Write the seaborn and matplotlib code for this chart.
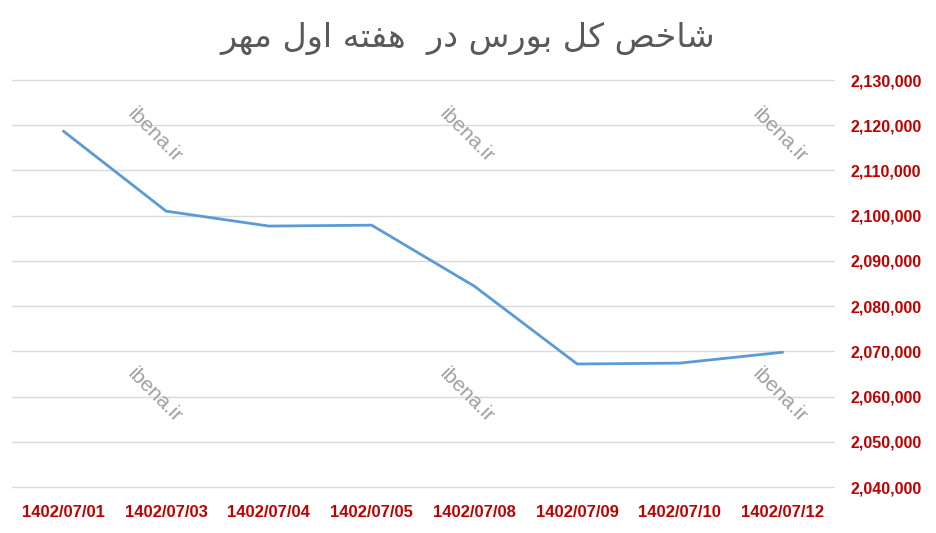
import matplotlib
matplotlib.use("Agg")
from matplotlib import pyplot as plt
from matplotlib.ticker import FuncFormatter, MultipleLocator
import seaborn as sb
import pandas as pd

# data
dates = ["1402/07/01", "1402/07/03", "1402/07/04", "1402/07/05",
         "1402/07/08", "1402/07/09", "1402/07/10", "1402/07/12"]
index_values = [2118700, 2101000, 2097700, 2097900,
                2084400, 2067200, 2067400, 2069800]
title_text = "شاخص کل بورس در  هفته اول مهر"
watermark = "ibena.ir"

# matplotlib has no arabic shaping, so pick the joined glyph forms by hand
# (isolated, final, initial, medial); None = letter never joins to the next one
FORMS = {
    'ا': ('\uFE8D', '\uFE8E', None, None),
    'د': ('\uFEA9', '\uFEAA', None, None),
    'ر': ('\uFEAD', '\uFEAE', None, None),
    'و': ('\uFEED', '\uFEEE', None, None),
    'ب': ('\uFE8F', '\uFE90', '\uFE91', '\uFE92'),
    'ت': ('\uFE95', '\uFE96', '\uFE97', '\uFE98'),
    'خ': ('\uFEA5', '\uFEA6', '\uFEA7', '\uFEA8'),
    'س': ('\uFEB1', '\uFEB2', '\uFEB3', '\uFEB4'),
    'ش': ('\uFEB5', '\uFEB6', '\uFEB7', '\uFEB8'),
    'ص': ('\uFEB9', '\uFEBA', '\uFEBB', '\uFEBC'),
    'ف': ('\uFED1', '\uFED2', '\uFED3', '\uFED4'),
    'ک': ('\uFB8E', '\uFB8F', '\uFB90', '\uFB91'),
    'ل': ('\uFEDD', '\uFEDE', '\uFEDF', '\uFEE0'),
    'م': ('\uFEE1', '\uFEE2', '\uFEE3', '\uFEE4'),
    'ه': ('\uFEE9', '\uFEEA', '\uFEEB', '\uFEEC'),
}

def shape(text):
    out = []
    for i, ch in enumerate(text):
        f = FORMS.get(ch)
        if f is None:
            out.append(ch)
            continue
        prev = text[i-1] if i > 0 else ''
        nxt = text[i+1] if i+1 < len(text) else ''
        join_prev = prev in FORMS and FORMS[prev][2] is not None
        join_next = f[2] is not None and nxt in FORMS
        if join_prev and join_next:
            out.append(f[3])
        elif join_prev:
            out.append(f[1])
        elif join_next:
            out.append(f[2])
        else:
            out.append(f[0])
    return ''.join(out)[::-1]

sb.set_style("white")
plt.rcParams['font.family'] = ['Liberation Sans', 'DejaVu Sans']

df = pd.DataFrame({"date": dates, "value": index_values})

fig = plt.figure(figsize=(9.36, 5.33), dpi=100)
ax = fig.add_axes([0.0128, 0.0863, 0.8783, 0.7636])

sb.lineplot(data=df, x="date", y="value", ax=ax, color="#5B9BD5",
            linewidth=2.0, sort=False)

ax.set_xlim(-0.5, len(dates) - 0.5)
ax.set_ylim(2040000, 2130000)
ax.yaxis.set_major_locator(MultipleLocator(10000))
ax.yaxis.set_major_formatter(FuncFormatter(lambda v, p: f"{int(v):,}"))
ax.yaxis.tick_right()
ax.grid(axis="y", color="#D9D9D9", linewidth=1.0)
for gl in ax.get_ygridlines():
    gl.set_clip_on(False)
ax.set_axisbelow(True)
for s in ax.spines.values():
    s.set_visible(False)
ax.tick_params(axis="both", length=0, labelcolor="#C00000")
ax.tick_params(axis="y", pad=12, labelsize=11.5)
ax.tick_params(axis="x", pad=13, labelsize=12)
for lab in ax.get_xticklabels() + ax.get_yticklabels():
    lab.set_fontweight("bold")
ax.set_xlabel("")
ax.set_ylabel("")

fig.text(0.5, 0.928, shape(title_text), ha="center", va="center",
         fontsize=24, color="#595959", family=['DejaVu Sans'])

# watermarks
for fx in [155, 467, 780]:
    for fy in [135, 395]:
        fig.text(fx / 936, 1 - fy / 533, watermark, ha="center", va="center",
                 rotation=-45, fontsize=15, color="#A0A0A0")

fig.savefig("out.png", dpi=100)
